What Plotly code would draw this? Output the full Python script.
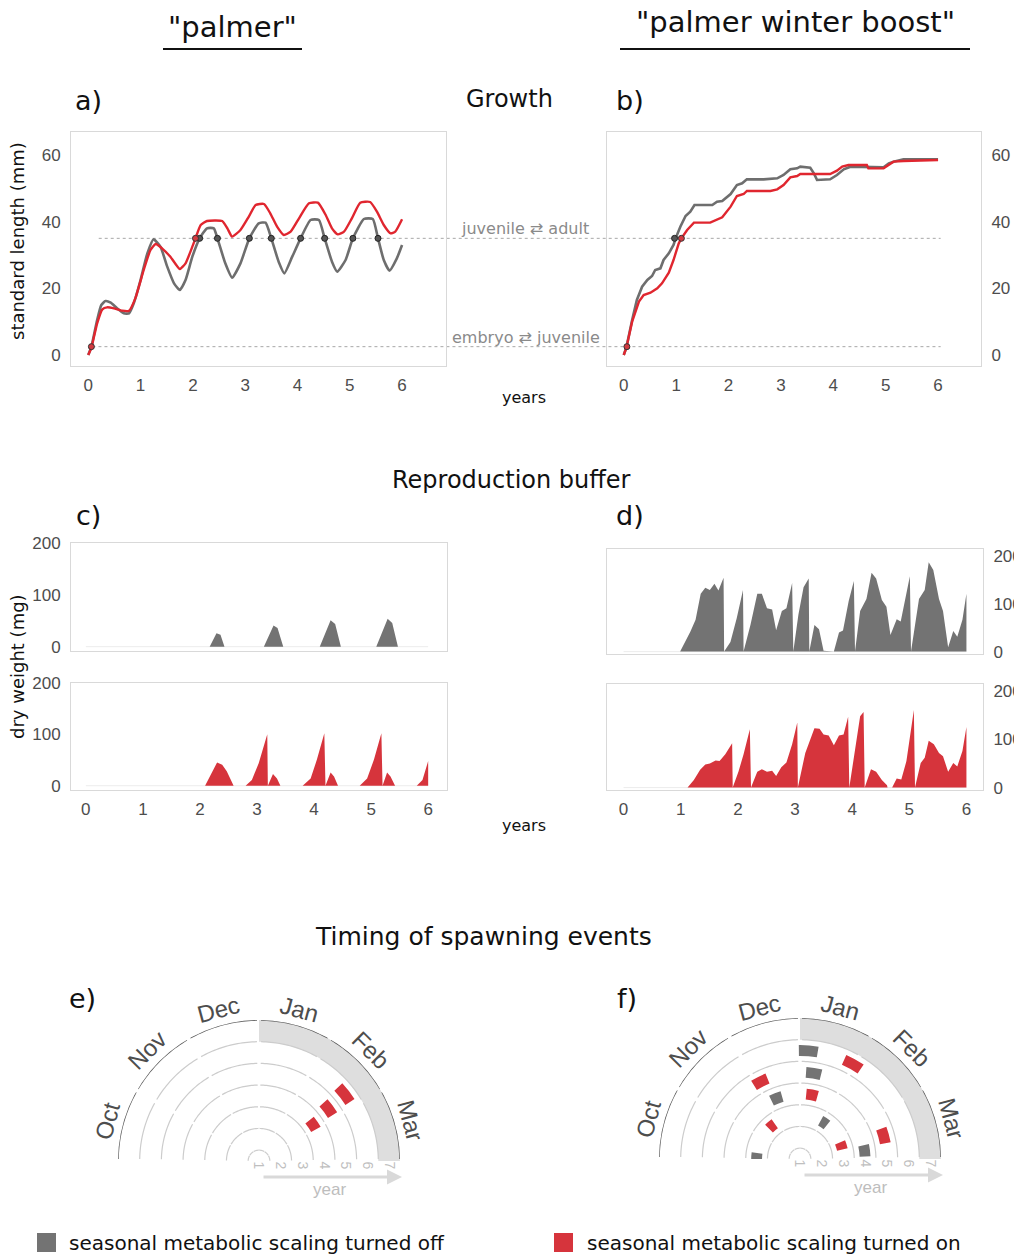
import numpy as np
import plotly.graph_objects as go

W, H = 1014, 1254

# ---------------- DATA ----------------
# Growth, "palmer" (a)
a_grey_x = [0, 0.06, 0.17, 0.25, 0.33, 0.43, 0.55, 0.68, 0.78, 0.87, 1.0, 1.13, 1.25, 1.38, 1.51, 1.64, 1.75, 1.86, 1.99, 2.13, 2.27, 2.4, 2.47, 2.62, 2.75, 2.91, 3.08, 3.26, 3.39, 3.5, 3.64, 3.75, 3.9, 4.06, 4.25, 4.41, 4.52, 4.66, 4.76, 4.92, 5.06, 5.27, 5.44, 5.54, 5.65, 5.76, 5.9, 6.0]
a_grey_y = [0, 2.5, 10.5, 15, 16.2, 15.7, 14, 12.5, 12.5, 15.5, 22.5, 30.5, 34.7, 32.5, 26.5, 21.5, 19.5, 22.5, 29.5, 35, 38, 38, 35, 27.5, 23.2, 27.5, 35, 39.5, 39.7, 35, 28, 24.5, 29.5, 35, 40.5, 40.5, 35, 28, 25, 28.5, 35, 40.8, 40.8, 35, 28.5, 25.3, 29, 33]
a_red_x = [0, 0.06, 0.17, 0.27, 0.36, 0.49, 0.65, 0.78, 0.9, 1.06, 1.19, 1.29, 1.41, 1.57, 1.75, 1.86, 1.99, 2.05, 2.15, 2.27, 2.56, 2.66, 2.75, 2.91, 3.07, 3.2, 3.36, 3.48, 3.61, 3.74, 3.87, 4.03, 4.22, 4.39, 4.54, 4.66, 4.77, 4.89, 5.04, 5.2, 5.39, 5.52, 5.65, 5.78, 5.87, 6.0]
a_red_y = [0, 2.2, 9.5, 13.7, 14.3, 14, 13.3, 13.3, 17, 25.5, 31.5, 33.3, 32, 29.5, 25.8, 27.5, 32.5, 35, 39, 40.2, 40.2, 38, 35.5, 37.5, 41.5, 45, 45.3, 42.5, 38.5, 36, 37, 41, 45.5, 45.7, 42, 38, 36.2, 37, 41, 45.7, 45.9, 43, 39, 36.5, 37, 40.7]
a_grey_mat_x = [2.13, 2.47, 3.08, 3.5, 4.06, 4.52, 5.06, 5.54]
a_red_mat_x = [2.05]
birth_x = [0.06]

# Growth, "palmer winter boost" (b)
b_grey_x = [0, 0.05, 0.16, 0.25, 0.35, 0.45, 0.54, 0.6, 0.7, 0.76, 0.86, 0.95, 0.99, 1.08, 1.18, 1.27, 1.35, 1.46, 1.69, 1.78, 1.88, 2.04, 2.16, 2.26, 2.35, 2.67, 2.93, 3.05, 3.18, 3.31, 3.37, 3.56, 3.63, 3.69, 3.94, 4.07, 4.2, 4.33, 4.64, 4.71, 4.96, 5.06, 5.15, 5.34, 6.0]
b_grey_y = [0, 2.3, 10.5, 16.5, 20.5, 22.5, 23.7, 25.5, 26, 28.5, 30.5, 33, 35, 38.5, 41.7, 43, 45, 45, 45, 46, 46.2, 48.3, 51, 51.5, 52.7, 52.7, 53, 54, 55.7, 56, 56.5, 56.2, 54.5, 52.5, 52.7, 54, 55.7, 56.5, 56.5, 56.3, 56.3, 57.5, 58, 58.7, 58.7]
b_red_x = [0, 0.05, 0.16, 0.29, 0.38, 0.51, 0.64, 0.73, 0.86, 0.95, 1.05, 1.1, 1.21, 1.34, 1.65, 1.78, 1.88, 2.04, 2.16, 2.29, 2.35, 2.8, 2.93, 3.05, 3.18, 3.31, 3.37, 3.94, 4.07, 4.17, 4.29, 4.64, 4.67, 4.96, 5.06, 5.15, 5.34, 6.0]
b_red_y = [0, 2.2, 10, 16, 18, 18.7, 20, 21.5, 24.7, 28.5, 33.5, 35, 37.5, 39.7, 39.7, 40.7, 41.3, 44.5, 47.7, 48.3, 49.2, 49.2, 49.7, 51, 53.3, 53.7, 54.3, 54.3, 55.3, 56.5, 57, 57, 56, 56, 57, 58, 58.2, 58.5]
b_grey_mat_x = [0.97]
b_red_mat_x = [1.1]

size_ticks = [0, 20, 40, 60]
juvenile_adult_mm = 35
embryo_juvenile_mm = 2.5

# Reproduction buffer (c)
c_grey_x = [0, 2.17, 2.29, 2.36, 2.43, 3.12, 3.29, 3.36, 3.46, 4.1, 4.29, 4.37, 4.47, 5.09, 5.29, 5.37, 5.47, 6.0]
c_grey_y = [0, 0, 26, 23, 0, 0, 41, 36, 0, 0, 51, 44, 0, 0, 54, 46, 0, 0]
c_red_x = [0, 2.09, 2.3, 2.39, 2.47, 2.59, 2.8, 2.91, 3.03, 3.18, 3.19, 3.28, 3.35, 3.41, 3.8, 3.94, 4.05, 4.18, 4.2, 4.29, 4.35, 4.42, 4.8, 4.93, 5.05, 5.18, 5.2, 5.28, 5.34, 5.42, 5.8, 5.9, 6.0]
c_red_y = [0, 0, 45, 41, 28, 0, 0, 11, 44, 100, 0, 23, 14, 0, 0, 14, 51, 102, 0, 26, 18, 0, 0, 14, 51, 102, 0, 26, 18, 0, 0, 11, 48]

# Reproduction buffer (d)
d_grey_x = [0, 0.99, 1.17, 1.26, 1.35, 1.43, 1.51, 1.59, 1.66, 1.75, 1.76, 1.87, 1.98, 2.09, 2.1, 2.22, 2.34, 2.42, 2.51, 2.6, 2.67, 2.77, 2.85, 2.95, 2.97, 3.06, 3.15, 3.24, 3.25, 3.34, 3.42, 3.5, 3.68, 3.77, 3.84, 3.94, 4.03, 4.05, 4.14, 4.25, 4.34, 4.42, 4.52, 4.6, 4.67, 4.78, 4.85, 4.93, 5.01, 5.03, 5.17, 5.27, 5.34, 5.42, 5.52, 5.59, 5.68, 5.77, 5.84, 5.93, 6.0, 6.0]
d_grey_y = [0, 0, 42, 67, 121, 134, 129, 142, 128, 155, 0, 20, 70, 129, 0, 56, 121, 121, 91, 88, 45, 85, 91, 144, 0, 78, 135, 153, 0, 56, 47, 2, 0, 40, 44, 106, 148, 0, 85, 110, 165, 153, 108, 94, 35, 68, 63, 114, 158, 0, 110, 129, 187, 171, 110, 85, 9, 43, 31, 67, 121, 0]
d_red_x = [0, 1.12, 1.23, 1.34, 1.43, 1.51, 1.61, 1.68, 1.78, 1.9, 1.91, 2.01, 2.1, 2.21, 2.23, 2.34, 2.42, 2.51, 2.6, 2.67, 2.76, 2.85, 2.95, 3.04, 3.05, 3.18, 3.34, 3.43, 3.5, 3.59, 3.68, 3.77, 3.85, 3.93, 3.95, 4.06, 4.14, 4.2, 4.22, 4.33, 4.42, 4.52, 4.61, 4.62, 4.7, 4.78, 4.86, 4.95, 5.08, 5.1, 5.2, 5.27, 5.34, 5.43, 5.52, 5.59, 5.68, 5.77, 5.84, 5.93, 6.0, 6.0]
d_red_y = [0, 0, 16, 37, 48, 50, 56, 55, 69, 92, 0, 33, 69, 121, 0, 33, 38, 33, 35, 24, 42, 52, 90, 135, 0, 72, 123, 122, 110, 108, 88, 108, 110, 147, 0, 87, 148, 157, 0, 38, 33, 16, 5, 0, 0, 19, 17, 55, 161, 0, 51, 62, 97, 90, 72, 65, 33, 51, 44, 76, 126, 0]

year_ticks = [0, 1, 2, 3, 4, 5, 6]
buffer_ticks = [0, 100, 200]

# Timing of spawning events (angle: degrees clockwise from 1 Oct, 30 per month)
months = ["Oct", "Nov", "Dec", "Jan", "Feb", "Mar"]
winter_start, winter_end = 90, 180        # Jan..Mar highlighted band
e_red_theta = [146, 143, 142]
e_red_year = [4, 5, 6]
f_grey_theta = [3, 123.4, 69, 172.8, 99, 94.4]
f_grey_year = [3, 3, 4, 4, 5, 6]
f_red_theta = [49.4, 162.4, 100.5, 63, 164.5, 119]
f_red_year = [3, 3, 4, 5, 5, 6]
spawn_width_deg = 10
ring_years = [1, 2, 3, 4, 5, 6, 7]

# ---------------- STYLE ----------------
GREY_LINE = "#6e6e6e"
RED_LINE = "#e0262f"
GREY_FILL = "#737373"
RED_FILL = "#d6343c"
TICK_FONT = dict(family="Liberation Sans, Arial, sans-serif", size=17, color="#4d4d4d")
TXT = "DejaVu Sans, sans-serif"
FRAME = "#d9d9d9"

def py(p):
    return 1 - p / H

def pxd(lo, hi):
    return [lo / W, hi / W]

def pyd(top, bottom):
    return [1 - bottom / H, 1 - top / H]

fig = go.Figure()

# ---- Growth lines
fig.add_trace(go.Scatter(x=a_grey_x, y=a_grey_y, mode="lines", line=dict(color=GREY_LINE, width=2.6, shape="spline", smoothing=0.5), xaxis="x", yaxis="y"))
fig.add_trace(go.Scatter(x=a_red_x, y=a_red_y, mode="lines", line=dict(color=RED_LINE, width=2.4, shape="spline", smoothing=0.5), xaxis="x", yaxis="y"))
fig.add_trace(go.Scatter(x=b_grey_x, y=b_grey_y, mode="lines", line=dict(color=GREY_LINE, width=2.6), xaxis="x2", yaxis="y2"))
fig.add_trace(go.Scatter(x=b_red_x, y=b_red_y, mode="lines", line=dict(color=RED_LINE, width=2.4), xaxis="x2", yaxis="y2"))

mk_grey = dict(size=6, color="#555555", line=dict(color="#222222", width=1))
mk_red = dict(size=6, color="#d23a40", line=dict(color="#333333", width=1))
for xa, ya, gx, rx in [("x", "y", a_grey_mat_x, a_red_mat_x), ("x2", "y2", b_grey_mat_x, b_red_mat_x)]:
    fig.add_trace(go.Scatter(x=gx, y=[juvenile_adult_mm] * len(gx), mode="markers", marker=mk_grey, xaxis=xa, yaxis=ya))
    fig.add_trace(go.Scatter(x=rx, y=[juvenile_adult_mm] * len(rx), mode="markers", marker=mk_red, xaxis=xa, yaxis=ya))
    fig.add_trace(go.Scatter(x=birth_x, y=[embryo_juvenile_mm], mode="markers", marker=mk_red, xaxis=xa, yaxis=ya))

# ---- Reproduction buffer areas
fig.add_trace(go.Scatter(x=c_grey_x, y=c_grey_y, mode="lines", fill="tozeroy", fillcolor=GREY_FILL, line=dict(color=GREY_FILL, width=0), xaxis="x3", yaxis="y3"))
fig.add_trace(go.Scatter(x=c_red_x, y=c_red_y, mode="lines", fill="tozeroy", fillcolor=RED_FILL, line=dict(color=RED_FILL, width=0), xaxis="x4", yaxis="y4"))
fig.add_trace(go.Scatter(x=d_grey_x, y=d_grey_y, mode="lines", fill="tozeroy", fillcolor=GREY_FILL, line=dict(color=GREY_FILL, width=0), xaxis="x5", yaxis="y5"))
fig.add_trace(go.Scatter(x=d_red_x, y=d_red_y, mode="lines", fill="tozeroy", fillcolor=RED_FILL, line=dict(color=RED_FILL, width=0), xaxis="x6", yaxis="y6"))

# ---- Polar panels
def month_segments(radius, gap):
    th, rr = [], []
    for m in range(len(months)):
        t = np.linspace(m * 30 + gap, (m + 1) * 30 - gap, 25)
        th += list(t) + [None]
        rr += [radius] * len(t) + [None]
    return th, rr

rmax = ring_years[-1] + 0.5
for pol in ["polar", "polar2"]:
    fig.add_trace(go.Barpolar(theta=[(winter_start + winter_end) / 2], r=[1.0], base=[rmax - 1.0],
                              width=[winter_end - winter_start], marker=dict(color="#dedede", line=dict(width=0)),
                              subplot=pol))
    for ry in ring_years[:-1]:
        th, rr = month_segments(ry + 0.5, 1.0)
        fig.add_trace(go.Scatterpolar(theta=th, r=rr, mode="lines", line=dict(color="#cccccc", width=1.2),
                                      subplot=pol, cliponaxis=False))
    th, rr = month_segments(rmax, 0.8)
    fig.add_trace(go.Scatterpolar(theta=th, r=rr, mode="lines", line=dict(color="#5a5a5a", width=1.6),
                                  subplot=pol, cliponaxis=False))

def spawn_trace(theta, years, color, pol):
    return go.Barpolar(theta=theta, r=[0.5] * len(years), base=[y - 0.25 for y in years],
                       width=[spawn_width_deg] * len(years), marker=dict(color=color, line=dict(width=0)),
                       subplot=pol)

fig.add_trace(spawn_trace(e_red_theta, e_red_year, RED_FILL, "polar"))
fig.add_trace(spawn_trace(f_grey_theta, f_grey_year, GREY_FILL, "polar2"))
fig.add_trace(spawn_trace(f_red_theta, f_red_year, RED_FILL, "polar2"))

# ---------------- LAYOUT ----------------
ax_common = dict(showgrid=False, zeroline=False, showline=True, mirror=True, linecolor=FRAME, linewidth=1,
                 ticks="", tickfont=TICK_FONT, automargin=False)

a_xr, a_yr = [-0.33, 6.84], [-3.3, 66.9]
b_xr = [-0.32, 6.82]
a_xd, b_xd = pxd(71, 446), pxd(607, 981)
gy_d = pyd(132, 366)

layout = dict(
    width=W, height=H, margin=dict(l=0, r=0, t=0, b=0, pad=0, autoexpand=False),
    paper_bgcolor="white", plot_bgcolor="white", showlegend=False,
    xaxis=dict(ax_common, domain=a_xd, range=a_xr, tickvals=year_ticks, anchor="y", ticklabelstandoff=4),
    yaxis=dict(ax_common, domain=gy_d, range=a_yr, tickvals=size_ticks, anchor="x", ticklabelstandoff=6),
    xaxis2=dict(ax_common, domain=b_xd, range=b_xr, tickvals=year_ticks, anchor="y2", ticklabelstandoff=4),
    yaxis2=dict(ax_common, domain=gy_d, range=a_yr, tickvals=size_ticks, anchor="x2", side="right", ticklabelstandoff=6),
    xaxis3=dict(ax_common, domain=pxd(71, 447), range=[-0.26, 6.33], showticklabels=False, anchor="y3"),
    yaxis3=dict(ax_common, domain=pyd(543, 651), range=[-8.4, 201], tickvals=buffer_ticks, anchor="x3", ticklabelstandoff=6),
    xaxis4=dict(ax_common, domain=pxd(71, 447), range=[-0.26, 6.33], tickvals=year_ticks, anchor="y4", ticklabelstandoff=4),
    yaxis4=dict(ax_common, domain=pyd(683, 790), range=[-8.3, 200], tickvals=buffer_ticks, anchor="x4", ticklabelstandoff=6),
    xaxis5=dict(ax_common, domain=pxd(607, 983), range=[-0.29, 6.29], showticklabels=False, anchor="y5"),
    yaxis5=dict(ax_common, domain=pyd(549, 654), range=[-5, 215], tickvals=buffer_ticks, anchor="x5", side="right", ticklabelstandoff=6),
    xaxis6=dict(ax_common, domain=pxd(607, 983), range=[-0.29, 6.29], tickvals=year_ticks, anchor="y6", ticklabelstandoff=4),
    yaxis6=dict(ax_common, domain=pyd(684, 790), range=[-5, 215], tickvals=buffer_ticks, anchor="x6", side="right", ticklabelstandoff=6),
)

R = 141
polar_centres = {"polar": (259, 1161), "polar2": (800, 1159)}
for pol, (cx, cy) in polar_centres.items():
    layout[pol] = dict(
        domain=dict(x=[(cx - R) / W, (cx + R) / W], y=[1 - cy / H, 1 - (cy - R) / H]),
        sector=[0, 180], bgcolor="white",
        radialaxis=dict(range=[1.0, rmax], tickvals=ring_years, showgrid=False, showline=False, ticks="",
                        tickangle=90, angle=0, side="clockwise",
                        tickfont=dict(family="Liberation Sans, Arial, sans-serif", size=14, color="#bfbfbf")),
        angularaxis=dict(rotation=180, direction="clockwise", showgrid=False, showline=False,
                         showticklabels=False, ticks="", thetaunit="degrees"),
    )
fig.update_layout(**layout)

ann = []
def text(x, y, s, size, color="#111111", family=TXT, xanchor="center", angle=0):
    ann.append(dict(x=x / W, y=py(y), xref="paper", yref="paper", text=s, showarrow=False,
                    font=dict(family=family, size=size, color=color), xanchor=xanchor, yanchor="middle",
                    textangle=angle))

text(232, 27, '"palmer"', 29)
text(795, 22, '"palmer winter boost"', 29)
text(88, 100, "a)", 27)
text(630, 100, "b)", 27)
text(509, 99, "Growth", 24)
text(17, 241, "standard length (mm)", 18, angle=-90)
text(524, 398, "years", 16)
text(525, 228, "juvenile \u21c4 adult", 16, color="#8a8a8a")
text(526, 337, "embryo \u21c4 juvenile", 16, color="#8a8a8a")
text(511, 480, "Reproduction buffer", 24)
text(88, 515, "c)", 27)
text(630, 515, "d)", 27)
text(17, 667, "dry weight (mg)", 18, angle=-90)
text(524, 825, "years", 16)
text(483, 936, "Timing of spawning events", 25)
text(82, 998, "e)", 27)
text(627, 998, "f)", 27)
text(67, 1243, "seasonal metabolic scaling turned off", 20, xanchor="left")
text(585, 1243, "seasonal metabolic scaling turned on", 20, xanchor="left")

# month labels and year arrows
for pol, (cx, cy) in polar_centres.items():
    for m, name in enumerate(months):
        tmid = m * 30 + 15
        phi = np.radians(180 - tmid)
        text(cx + 157 * np.cos(phi), cy - 157 * np.sin(phi), name, 24, color="#4d4d4d",
             family="Liberation Sans, Arial, sans-serif", angle=tmid - 90)
    ann.append(dict(x=(cx + 143) / W, y=py(cy + 16), xref="paper", yref="paper", ax=-140, ay=0,
                    axref="pixel", ayref="pixel", text="", showarrow=True, arrowhead=2, arrowsize=1,
                    arrowwidth=3, arrowcolor="#d9d9d9"))
    text(cx + 70, cy + 28, "year", 17, color="#bdbdbd", family="Liberation Sans, Arial, sans-serif")

fig.update_layout(annotations=ann)

shapes = []
shapes.append(dict(type="line", xref="paper", yref="paper", x0=163 / W, x1=302 / W, y0=py(49), y1=py(49), line=dict(color="#111111", width=2)))
shapes.append(dict(type="line", xref="paper", yref="paper", x0=620 / W, x1=970 / W, y0=py(49), y1=py(49), line=dict(color="#111111", width=2)))

def to_paper(v, dom, rng):
    return dom[0] + (v - rng[0]) / (rng[1] - rng[0]) * (dom[1] - dom[0])

for yv, xs in [(juvenile_adult_mm, 0.2), (embryo_juvenile_mm, 0.08)]:
    shapes.append(dict(type="line", xref="paper", yref="y", x0=to_paper(xs, a_xd, a_xr), x1=to_paper(6.05, b_xd, b_xr),
                       y0=yv, y1=yv, line=dict(color="#a8a8a8", width=1, dash="3px,3px"), layer="below"))

for xa, ya in [("x3", "y3"), ("x4", "y4"), ("x5", "y5"), ("x6", "y6")]:
    shapes.append(dict(type="line", xref=xa, yref=ya, x0=0, x1=6, y0=0, y1=0, line=dict(color="#ececec", width=1), layer="below"))

shapes.append(dict(type="rect", xref="paper", yref="paper", x0=37 / W, x1=56 / W, y0=py(1252), y1=py(1233), fillcolor=GREY_FILL, line=dict(width=0)))
shapes.append(dict(type="rect", xref="paper", yref="paper", x0=554 / W, x1=573 / W, y0=py(1252), y1=py(1233), fillcolor=RED_FILL, line=dict(width=0)))
fig.update_layout(shapes=shapes)

post = ("var gd=document.getElementById('{plot_id}');"
        "gd.style.position='absolute';gd.style.left='0px';gd.style.top='0px';"
        "document.body.style.margin='0';document.body.style.padding='0';"
        "document.documentElement.style.overflow='hidden';document.body.style.overflow='hidden';")
fig.write_html("out.html", include_plotlyjs=True, config={"displayModeBar": False}, post_script=post)
